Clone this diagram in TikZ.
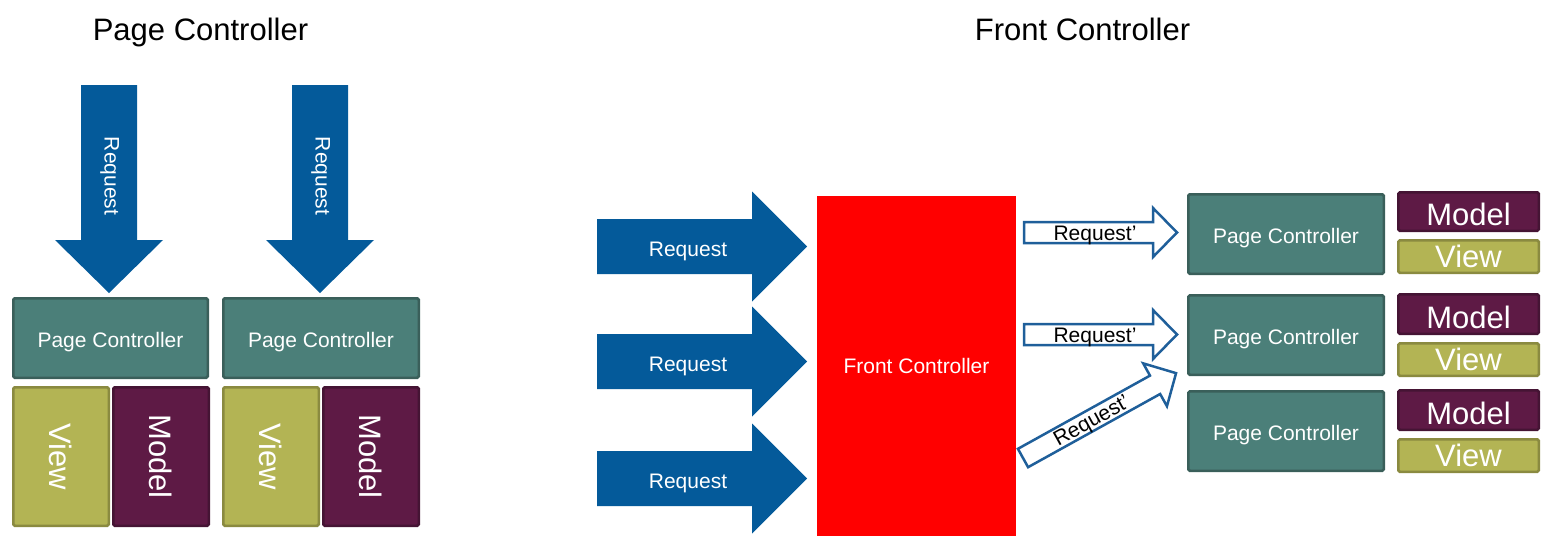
\documentclass[tikz,border=0pt]{standalone}
\usepackage{fontspec}
\setmainfont{Liberation Sans}
\definecolor{arrowblue}{HTML}{045A9A}
\definecolor{outlineblue}{HTML}{1F5F9A}
\definecolor{pcfill}{HTML}{4B7F79}
\definecolor{pcdraw}{HTML}{3A5F5A}
\definecolor{modelfill}{HTML}{5E1A45}
\definecolor{modeldraw}{HTML}{451434}
\definecolor{viewfill}{HTML}{B3B454}
\definecolor{viewdraw}{HTML}{8A8A40}
\tikzset{
  pics/blockarrow/.style n args={4}{code={
    \path[pic actions] (0,-#2) -- (#1-#4,-#2) -- (#1-#4,-#3) -- (#1,0)
      -- (#1-#4,#3) -- (#1-#4,#2) -- (0,#2) -- cycle;
  }},
  solidarrow/.style={fill=arrowblue},
  outarrow/.style={draw=outlineblue, line width=2.5pt, fill=white, line join=miter},
  box/.style={draw, line width=2.5pt, rounded corners=1.5pt, inner sep=0pt, text=white},
  smallfont/.style={font=\fontsize{21}{21}\selectfont},
  bigfont/.style={font=\fontsize{31}{31}\selectfont},
  pcbox/.style={box, fill=pcfill, draw=pcdraw, smallfont, text height=19pt, text depth=0pt},
  modelbox/.style={box, fill=modelfill, draw=modeldraw, bigfont},
  viewbox/.style={box, fill=viewfill, draw=viewdraw, bigfont},
  whitetext/.style={smallfont, text=white, inner sep=0pt, text height=15pt, text depth=0pt},
  blacktext/.style={smallfont, text=black, inner sep=0pt, text height=15pt, text depth=0pt},
  bigwhite/.style={bigfont, text=white, inner sep=0pt},
  titletext/.style={bigfont, text=black, inner sep=0pt, anchor=base},
}
\begin{document}
\begin{tikzpicture}[x=1pt,y=-1pt]
\useasboundingbox (0,0) rectangle (1553,541);

% titles
\node[titletext] (t1) at (200.5,40) {Page Controller};
\node[titletext] (t2) at (1082.5,40) {Front Controller};

% ---------- Page Controller side ----------
\pic[solidarrow, rotate=-90] (da1) at (109,85) {blockarrow={208}{28}{54}{53}};
\pic[solidarrow, rotate=-90] (da2) at (320,85) {blockarrow={208}{28}{54}{53}};
\node[whitetext, rotate=-90, text height=13pt, text depth=4pt] (rq1) at (109,176) {Request};
\node[whitetext, rotate=-90, text height=13pt, text depth=4pt] (rq2) at (320,176) {Request};

\node[pcbox, minimum width=194.5, minimum height=79.5] (lpc1) at (110.5,338) {Page Controller};
\node[pcbox, minimum width=195.5, minimum height=79.5] (lpc2) at (321,338) {Page Controller};

\node[viewbox, minimum width=95.5, minimum height=138.5] (lv1) at (61,456.5) {};
\node[modelbox, minimum width=95.5, minimum height=138.5] (lm1) at (161,456.5) {};
\node[viewbox, minimum width=95.5, minimum height=138.5] (lv2) at (271,456.5) {};
\node[modelbox, minimum width=95.5, minimum height=138.5] (lm2) at (371,456.5) {};
\node[bigwhite, rotate=-90] (lvt1) at (lv1.center) {View};
\node[bigwhite, rotate=-90] (lmt1) at (lm1.center) {Model};
\node[bigwhite, rotate=-90] (lvt2) at (lv2.center) {View};
\node[bigwhite, rotate=-90] (lmt2) at (lm2.center) {Model};

% ---------- Front Controller side ----------
\pic[solidarrow] (ra1) at (597,246.5) {blockarrow={210}{27.5}{55}{55}};
\pic[solidarrow] (ra2) at (597,361.5) {blockarrow={210}{27.5}{55}{55}};
\pic[solidarrow] (ra3) at (597,478.5) {blockarrow={210}{27.5}{55}{55}};
\node[whitetext] (rr1) at (688,249) {Request};
\node[whitetext] (rr2) at (688,364) {Request};
\node[whitetext] (rr3) at (688,481) {Request};

\node[fill=red, minimum width=199, minimum height=340, inner sep=0pt, text=white, smallfont] (fc) at (916.5,366) {Front Controller};

\pic[outarrow] (oa1) at (1024,232.5) {blockarrow={153}{10.5}{24.5}{24}};
\pic[outarrow] (oa2) at (1024,334.5) {blockarrow={153}{10.5}{24.5}{24}};
\pic[outarrow, rotate=29] (oa3) at (1023,458) {blockarrow={175}{10.5}{24.5}{24}};
\node[blacktext] (or1) at (1095,233) {Request’};
\node[blacktext] (or2) at (1095,334.5) {Request’};
\node[blacktext, rotate=29] (or3) at (1091,420) {Request’};

\node[pcbox, minimum width=195.5, minimum height=79.5] (rpc1) at (1286,234) {Page Controller};
\node[pcbox, minimum width=195.5, minimum height=79.5] (rpc2) at (1286,335) {Page Controller};
\node[pcbox, minimum width=195.5, minimum height=79.5] (rpc3) at (1286,431) {Page Controller};

\node[modelbox, minimum width=140.5, minimum height=38.5, text height=28pt, text depth=0pt] (rm1) at (1468.5,211.5) {Model};
\node[viewbox, minimum width=140.5, minimum height=32.5, text height=22pt, text depth=0pt] (rv1) at (1468.5,256.5) {View};
\node[modelbox, minimum width=140.5, minimum height=39.5, text height=28pt, text depth=0pt] (rm2) at (1468.5,314) {Model};
\node[viewbox, minimum width=140.5, minimum height=32.5, text height=22pt, text depth=0pt] (rv2) at (1468.5,359.5) {View};
\node[modelbox, minimum width=140.5, minimum height=39.5, text height=28pt, text depth=0pt] (rm3) at (1468.5,410) {Model};
\node[viewbox, minimum width=140.5, minimum height=32.5, text height=22pt, text depth=0pt] (rv3) at (1468.5,455.5) {View};
\end{tikzpicture}
\end{document}
